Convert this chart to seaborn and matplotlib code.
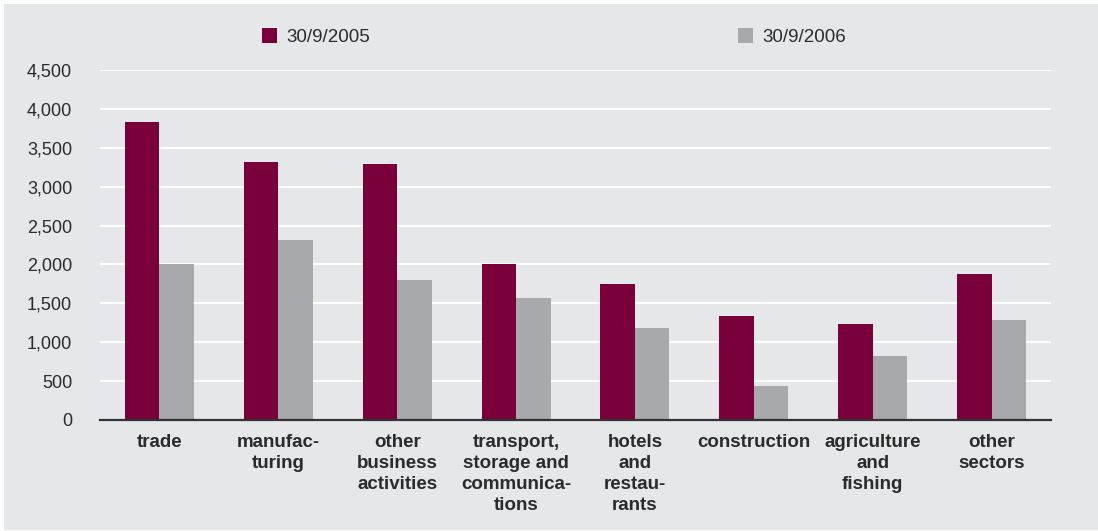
import matplotlib
matplotlib.use("Agg")
import matplotlib.pyplot as plt
from matplotlib.patches import Rectangle, Patch
import seaborn as sns
import pandas as pd

# Sector categories (tick labels with manual hyphenation)
sectors = [
    "trade",
    "manufac-\nturing",
    "other\nbusiness\nactivities",
    "transport,\nstorage and\ncommunica-\ntions",
    "hotels\nand\nrestau-\nrants",
    "construction",
    "agriculture\nand\nfishing",
    "other\nsectors",
]
series_names = ["30/9/2005", "30/9/2006"]
values_2005 = [3830, 3320, 3290, 2000, 1750, 1340, 1235, 1875]
values_2006 = [2005, 2315, 1800, 1570, 1185, 435, 825, 1285]
y_ticks = [0, 500, 1000, 1500, 2000, 2500, 3000, 3500, 4000, 4500]

MAROON = "#7a003c"
GREY = "#a8a9ac"
BG = "#e6e7e8"
TEXT = "#2b2b2b"

df = pd.DataFrame({
    "sector": sectors * 2,
    "date": [series_names[0]] * len(sectors) + [series_names[1]] * len(sectors),
    "value": values_2005 + values_2006,
})

sns.set_theme(style="white")
plt.rcParams["font.family"] = ["Liberation Sans", "DejaVu Sans"]

W, H = 1098, 531
fig = plt.figure(figsize=(W / 100, H / 100), dpi=100, facecolor="white")
fig.patches.append(Rectangle((4 / W, 1 / H), 1 - 4 / W, 1 - 5 / H,
                             transform=fig.transFigure, facecolor=BG,
                             edgecolor="none", zorder=-10))

ax = fig.add_axes([100 / W, 1 - 420 / H, (1051 - 100) / W, (420 - 70) / H])
ax.set_facecolor(BG)

sns.barplot(data=df, x="sector", y="value", hue="date",
            palette=[MAROON, GREY], width=0.58, gap=0, linewidth=0,
            saturation=1, legend=False, ax=ax, zorder=3)

ax.set_ylim(0, 4500)
ax.set_xlim(-0.5, len(sectors) - 0.5)
ax.set_yticks(y_ticks)
ax.set_yticklabels([f"{v:,}" for v in y_ticks])
ax.yaxis.grid(True, color="white", linewidth=1.5, zorder=1)
ax.xaxis.grid(False)
ax.set_axisbelow(True)
ax.set_xlabel("")
ax.set_ylabel("")

for side in ["top", "right", "left"]:
    ax.spines[side].set_visible(False)
ax.spines["bottom"].set_color("#333333")
ax.spines["bottom"].set_linewidth(1.6)
ax.spines["bottom"].set_zorder(5)

ax.tick_params(axis="y", length=0, pad=20, labelsize=13, labelcolor=TEXT)
ax.tick_params(axis="x", length=0, pad=10, labelsize=13.5, labelcolor=TEXT)
for lbl in ax.get_xticklabels():
    lbl.set_fontweight("bold")
    lbl.set_linespacing(1.32)
    lbl.set_verticalalignment("top")
    lbl.set_horizontalalignment("center")
    lbl.set_multialignment("center")

handles = [Patch(facecolor=MAROON, edgecolor="none"),
           Patch(facecolor=GREY, edgecolor="none")]
fig.legend(handles, series_names, ncol=2, loc="center",
           bbox_to_anchor=(554 / W, 1 - 37 / H), frameon=False,
           fontsize=13.5, handlelength=0.8, handleheight=0.8,
           handletextpad=0.5, columnspacing=19.6, labelcolor=TEXT)

fig.savefig("out.png", dpi=100, facecolor=fig.get_facecolor())
